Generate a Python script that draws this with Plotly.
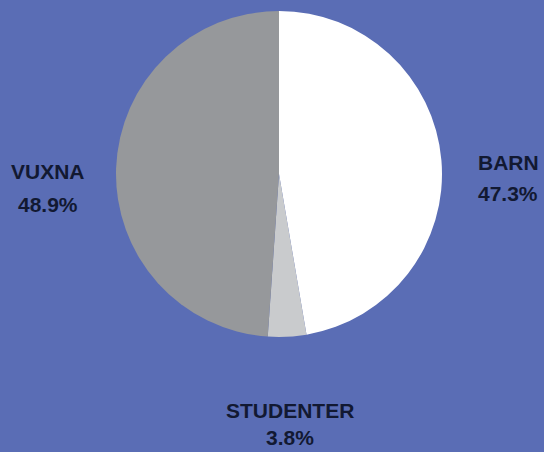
import plotly.graph_objects as go

labels = ["BARN", "STUDENTER", "VUXNA"]
values = [47.3, 3.8, 48.9]
colors = ["#ffffff", "#c9cbcd", "#96989b"]

# label placement (pixel centres of name line / percent line)
label_pos = {
    "BARN": (508, 162, 193),
    "STUDENTER": (290, 410, 437),
    "VUXNA": (48, 172, 204),
}

W, H = 544, 452
cx, cy, r = 279, 174, 163

fig = go.Figure(go.Pie(
    labels=labels, values=values, sort=False, direction="clockwise", rotation=0,
    marker=dict(colors=colors, line=dict(width=0)),
    textinfo="none", hoverinfo="label+percent", showlegend=False,
    domain=dict(x=[(cx - r) / W, (cx + r) / W], y=[1 - (cy + r) / H, 1 - (cy - r) / H]),
))

font = dict(family="Liberation Sans, Arial, sans-serif", size=21, color="#121932")
ann = []
for lab, val in zip(labels, values):
    x, y1, y2 = label_pos[lab]
    ann.append(dict(x=x / W, y=1 - y1 / H, xref="paper", yref="paper", text=f"<b>{lab}</b>",
                    showarrow=False, font=font, xanchor="center", yanchor="middle"))
    ann.append(dict(x=x / W, y=1 - y2 / H, xref="paper", yref="paper", text=f"<b>{val:.1f}%</b>",
                    showarrow=False, font=font, xanchor="center", yanchor="middle"))

fig.update_layout(
    width=W, height=H, margin=dict(l=0, r=0, t=0, b=0),
    paper_bgcolor="#5a6db5", plot_bgcolor="#5a6db5",
    annotations=ann,
)
fig.write_html(
    "out.html",
    config={"displayModeBar": False},
    post_script="document.body.style.margin='0';document.body.style.overflow='hidden';"
                "document.body.style.background='#5a6db5';",
)
